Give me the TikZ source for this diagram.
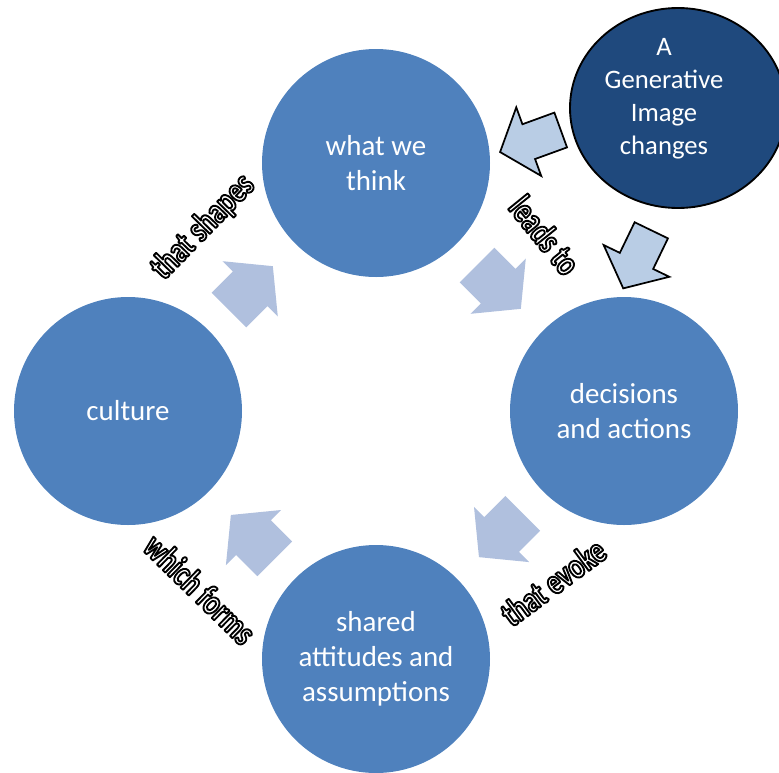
\documentclass[tikz,border=0pt]{standalone}
\usepackage{fontspec}
\setmainfont{Carlito}
\newfontfamily\labfont{Carlito}[FakeStretch=0.76]
\usetikzlibrary{shapes.geometric}

\definecolor{circblue}{HTML}{4F81BD}
\definecolor{genblue}{HTML}{1F497D}
\definecolor{cyclefill}{RGB}{176,192,222}
\definecolor{genfill}{HTML}{B9CDE5}

% white letters stroked with a black outline (PDF text render mode 2)
\newcommand{\outlinedtext}[1]{%
  \special{pdf:literal direct q 2 Tr 1.4 w 1 j 0 0 0 RG}#1\special{pdf:literal direct Q}}

\tikzset{
  stage/.style={circle, fill=circblue, draw=none, minimum size=171pt, inner sep=0pt,
    text=white, align=center, font=\fontsize{21.7}{26.25}\selectfont},
  genshape/.style={ellipse, fill=genblue, draw=black, line width=1.4pt,
    minimum width=162pt, minimum height=150pt, inner sep=0pt},
  gentext/.style={text=white, align=center, inner sep=0pt,
    font=\fontsize{20}{24.75}\selectfont},
  lab/.style={text=white, inner sep=0pt, font=\labfont\bfseries\fontsize{27}{30}\selectfont},
  pics/cyclearrow/.style={code={
    \fill[cyclefill] (0,-24.5) -- (30,-24.5) -- (30,-39) -- (62,0)
      -- (30,39) -- (30,24.5) -- (0,24.5) -- cycle;}},
  pics/genarrow/.style={code={
    \filldraw[fill=genfill, draw=black, line width=1.3pt, line join=miter]
      (0,-18.5) -- (34,-18.5) -- (34,-36.5) -- (64.5,0)
      -- (34,36.5) -- (34,18.5) -- (0,18.5) -- cycle;}},
}

\begin{document}
\begin{tikzpicture}[x=0.75pt,y=-0.75pt]
\useasboundingbox (0,0) rectangle (779,772);

% the four stages of the cycle
\node[stage] (think)   at (376,163) {what we\\think};
\node[stage] (actions) at (624,411) {decisions\\and actions};
\node[stage] (shared)  at (376,659) {shared\\attitudes and\\assumptions};
\node[stage] (culture) at (128,411) {culture};

% block arrows running round the cycle
\pic[rotate=45]   (c1) at (229,310)   {cyclearrow};
\pic[rotate=-45]  (c2) at (477,265)   {cyclearrow};
\pic[rotate=-135] (c3) at (522.8,513.3) {cyclearrow};
\pic[rotate=135]  (c4) at (274.7,558.8) {cyclearrow};

% outlined labels along the cycle
\node[lab, rotate=45.7]  (lshapes) at (203,227)   {\outlinedtext{that shapes}};
\node[lab, rotate=-51]   (lleads)  at (545,235) {\outlinedtext{leads to}};
\node[lab, rotate=36.5]  (levoke)  at (553,582)   {\outlinedtext{that evoke}};
\node[lab, rotate=-44.3] (lforms)  at (200,589) {\outlinedtext{which forms}};

% the generative image and its two arrows
\node[genshape] (gen) at (678,108) {};
\node[gentext] (gentxt) at (664,98.5) {A\\Generative\\Image\\changes};
\pic[rotate=-160]   (g1) at (560.7,130)   {genarrow};
\pic[rotate=-115.8] (g2) at (651.3,230.3) {genarrow};
\end{tikzpicture}
\end{document}
